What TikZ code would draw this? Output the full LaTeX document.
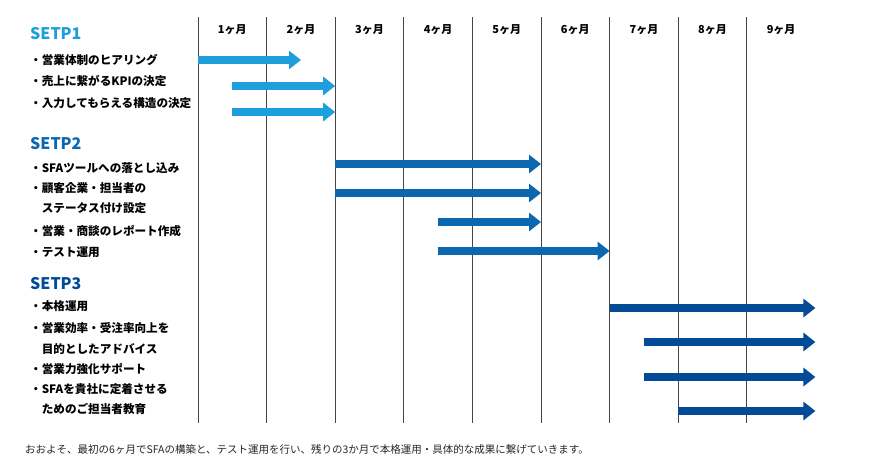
\documentclass[tikz,border=0pt]{standalone}
\usepackage{fontspec}
\setmainfont{Noto Sans CJK JP}
\usetikzlibrary{arrows.meta}
\definecolor{stepone}{HTML}{1E9FDB}
\definecolor{steptwo}{HTML}{0B67B0}
\definecolor{stepthree}{HTML}{034A97}
\begin{document}
\begin{tikzpicture}[x=1pt,y=-1pt]
\tikzstyle{heading} = [
 anchor=west,
 inner sep=0pt,
 font=\fontsize{16}{16}\selectfont\bfseries
]
\tikzstyle{item} = [
 anchor=west,
 inner sep=0pt,
 font=\fontsize{11.6}{11.6}\selectfont\bfseries
]
\tikzstyle{month} = [
 inner sep=0pt,
 font=\fontsize{11}{11}\selectfont\bfseries
]
\tikzstyle{grid} = [
 draw=gray!55!black,
 line width=0.9pt
]
\tikzstyle{bar} = [
 draw,
 line width=8pt,
 -{Triangle[length=12pt,width=18pt]}
]
\useasboundingbox (0,0) rectangle (896,467);

% month columns
\foreach \i in {0,...,8} {
 \coordinate (t\i) at (198+68.6*\i,17);
 \coordinate (b\i) at (198+68.6*\i,423);
 \path[grid] (t\i) -- (b\i);
}
\foreach \i in {1,...,9}
 \node[month] (m\i) at (198+68.6*\i-34.3,30) {\i ヶ月};

% step 1
\node[heading,text=stepone] (h1) at (30,34) {SETP1};
\node[item] (i11) at (30,60)  {・営業体制のヒアリング};
\node[item] (i12) at (30,81)  {・売上に繋がるKPIの決定};
\node[item] (i13) at (30,103) {・入力してもらえる構造の決定};

\coordinate (s11) at (198,60);   \coordinate (e11) at (301,60);
\coordinate (s12) at (232.3,86); \coordinate (e12) at (335.2,86);
\coordinate (s13) at (232.3,112);\coordinate (e13) at (335.2,112);
\path[bar,stepone] (s11) -- (e11);
\path[bar,stepone] (s12) -- (e12);
\path[bar,stepone] (s13) -- (e13);

% step 2
\node[heading,text=steptwo] (h2) at (30,144) {SETP2};
\node[item] (i21) at (30,168)  {・SFAツールへの落とし込み};
\node[item] (i22) at (30,188)  {・顧客企業・担当者の};
\node[item] (i22b) at (41.6,208) {ステータス付け設定};
\node[item] (i23) at (30,231)  {・営業・商談のレポート作成};
\node[item] (i24) at (30,252)  {・テスト運用};

\coordinate (s21) at (335.2,164); \coordinate (e21) at (541,164);
\coordinate (s22) at (335.2,193); \coordinate (e22) at (541,193);
\coordinate (s23) at (438.1,222); \coordinate (e23) at (541,222);
\coordinate (s24) at (438.1,251); \coordinate (e24) at (609.6,251);
\path[bar,steptwo] (s21) -- (e21);
\path[bar,steptwo] (s22) -- (e22);
\path[bar,steptwo] (s23) -- (e23);
\path[bar,steptwo] (s24) -- (e24);

% step 3
\node[heading,text=stepthree] (h3) at (30,284) {SETP3};
\node[item] (i31) at (30,306)  {・本格運用};
\node[item] (i32) at (30,328)  {・営業効率・受注率向上を};
\node[item] (i32b) at (41.6,349) {目的としたアドバイス};
\node[item] (i33) at (30,369)  {・営業力強化サポート};
\node[item] (i34) at (30,389)  {・SFAを貴社に定着させる};
\node[item] (i34b) at (41.6,409) {ためのご担当者教育};

\coordinate (s31) at (609.6,308); \coordinate (e31) at (815.4,308);
\coordinate (s32) at (643.9,342); \coordinate (e32) at (815.4,342);
\coordinate (s33) at (643.9,377); \coordinate (e33) at (815.4,377);
\coordinate (s34) at (678.2,411); \coordinate (e34) at (815.4,411);
\path[bar,stepthree] (s31) -- (e31);
\path[bar,stepthree] (s32) -- (e32);
\path[bar,stepthree] (s33) -- (e33);
\path[bar,stepthree] (s34) -- (e34);

% note
\node[anchor=west,inner sep=0pt,text=gray!30!black,
 font=\fontsize{10.5}{10.5}\selectfont] (note) at (25,449)
 {おおよそ、最初の6ヶ月でSFAの構築と、テスト運用を行い、残りの3か月で本格運用・具体的な成果に繋げていきます。};
\end{tikzpicture}
\end{document}
